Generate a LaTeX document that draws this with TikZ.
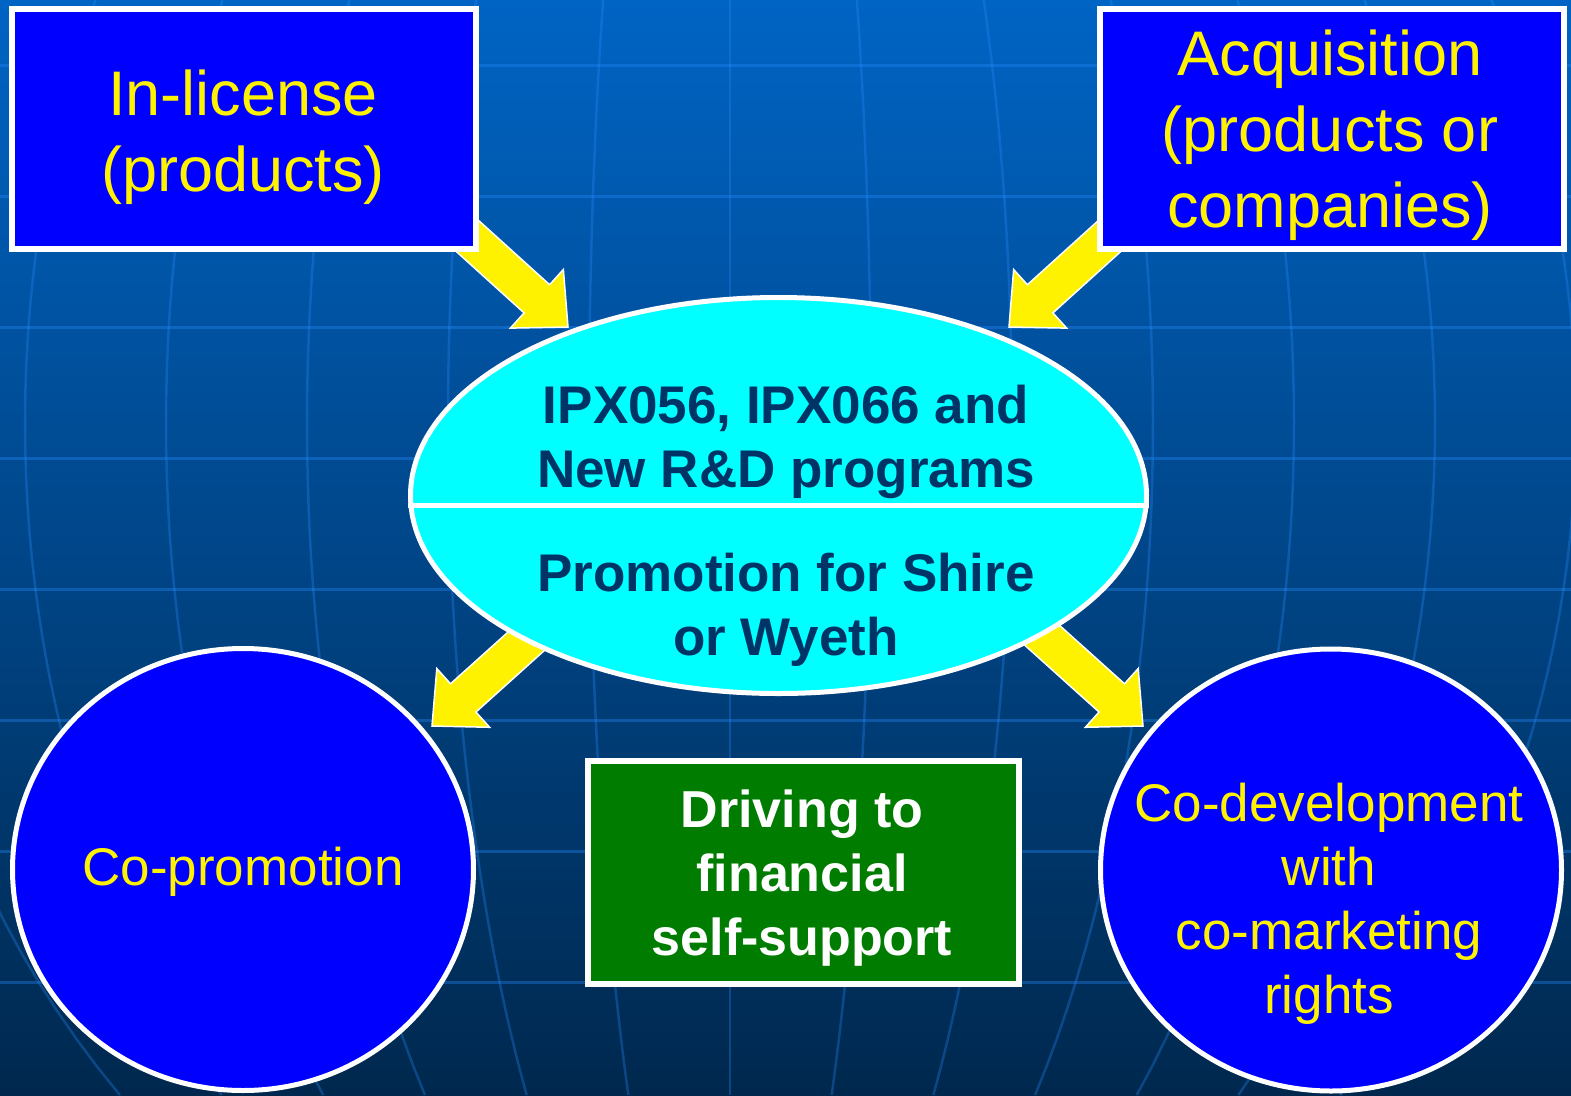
\documentclass[tikz,border=0pt]{standalone}
\usepackage{fontspec}
\setmainfont{Liberation Sans}
\usetikzlibrary{shapes.geometric,calc}

\definecolor{bgtop}{RGB}{0,100,196}
\definecolor{bgbot}{RGB}{0,40,78}
\definecolor{gridblue}{RGB}{40,140,255}
\definecolor{boxblue}{RGB}{0,0,255}
\definecolor{hubcyan}{RGB}{0,255,255}
\definecolor{hubnavy}{RGB}{0,51,102}
\definecolor{drivegreen}{RGB}{0,125,0}

% yellow block arrow from #1 to the tip #2
\newcommand\fatarrow[2]{%
  \coordinate (fa-h) at ($(#2)!42pt!(#1)$);
  \filldraw[fatarrow]
    ($(#1)!19pt!90:(#2)$) -- ($(fa-h)!19pt!90:(#2)$) -- ($(fa-h)!39.5pt!90:(#2)$)
    -- (#2) -- ($(fa-h)!39.5pt!-90:(#2)$) -- ($(fa-h)!19pt!-90:(#2)$)
    -- ($(#1)!19pt!-90:(#2)$) -- cycle;}

\begin{document}
\begin{tikzpicture}[x=1pt,y=-1pt,
  latitude/.style={gridblue,opacity=0.35,line width=3pt},
  meridian/.style={gridblue,opacity=0.3,line width=2.5pt},
  fatarrow/.style={fill=yellow,draw=white,line width=1.5pt},
  bluebox/.style={draw=white,line width=6pt,fill=boxblue,minimum width=464pt,minimum height=240pt},
  blueround/.style={ellipse,draw=white,line width=5pt,fill=boxblue,minimum width=461pt,minimum height=442pt},
  hubshape/.style={ellipse,draw=white,line width=5pt,fill=hubcyan,minimum width=736pt,minimum height=396pt},
  greenbox/.style={draw=white,line width=6pt,fill=drivegreen,minimum width=431pt,minimum height=223pt},
  yellowtext/.style={text=yellow,align=center},
  hubtext/.style={text=hubnavy,align=center,font=\fontsize{53}{64}\selectfont\bfseries},
  divider/.style={white,line width=5pt}]
\useasboundingbox (0,0) rectangle (1571,1095);
\shade[top color=bgtop,bottom color=bgbot] (0,0) rectangle (1571,1095);

% globe grid behind everything
\begin{scope}
\clip (0,0) rectangle (1571,1095);
\foreach \y in {65,196,...,982}
  \draw[latitude] (0,\y) -- (1571,\y);
\foreach \k in {-6,...,6}
  \draw[meridian] plot[domain=0:1095,samples=40,variable=\t]
    ({730+141*\k*sqrt(1-((\t-423)/970)^2)},\t);
\end{scope}

% arrows first, the shapes cover their tails
\coordinate (in-from) at (442,213);
\coordinate (in-to) at (568,327);
\coordinate (acq-from) at (1135,213);
\coordinate (acq-to) at (1009,327);
\coordinate (copro-from) at (581,592);
\coordinate (copro-to) at (432,726);
\coordinate (codev-from) at (994,592);
\coordinate (codev-to) at (1143,726);
\fatarrow{in-from}{in-to}
\fatarrow{acq-from}{acq-to}
\fatarrow{copro-from}{copro-to}
\fatarrow{codev-from}{codev-to}

\node[bluebox] (inlic) at (244,129) {};
\node[bluebox] (acq) at (1332,129) {};
\node[hubshape] (hub) at (778.5,495.5) {};
\draw[divider] ([yshift=-10pt]hub.west) -- ([yshift=-10pt]hub.east);
\node[blueround] (copro) at (243,869.5) {};
\node[blueround] (codev) at (1331,870) {};
\node[greenbox] (drive) at (803.5,872.5) {};

\node[yellowtext,font=\fontsize{63}{76}\selectfont] (inlic-t) at (243,137) {In-license\\(products)};
\node[yellowtext,font=\fontsize{63}{76}\selectfont] (acq-t) at (1330,135.5) {Acquisition\\(products or\\companies)};
\node[hubtext] (hub-up) at (786,441.5) {IPX056, IPX066 and\\New R\&D programs};
\node[hubtext] (hub-low) at (786,610) {Promotion for Shire\\or Wyeth};
\node[yellowtext,font=\fontsize{53}{64}\selectfont] (copro-t) at (243,872) {Co-promotion};
\node[yellowtext,font=\fontsize{53}{64}\selectfont] (codev-t) at (1329,904) {Co-development\\with\\co-marketing\\rights};
\node[text=white,align=center,font=\fontsize{52}{64}\selectfont\bfseries] (drive-t) at (802,878.5) {Driving to\\financial\\self-support};
\end{tikzpicture}
\end{document}
